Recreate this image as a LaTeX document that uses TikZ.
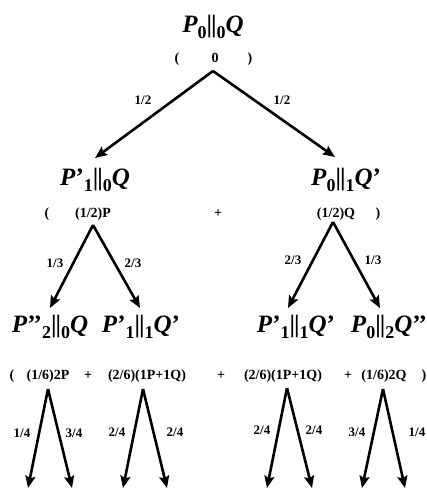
\documentclass[tikz,border=0pt]{standalone}
\usepackage{fontspec}
\setmainfont{Liberation Serif}
\usetikzlibrary{arrows.meta}
\newcommand{\sbs}[1]{\raisebox{-0.24em}{\fontsize{18}{18}\selectfont #1}}
\newcommand{\pbar}{\textbar\kern-1pt\textbar}
\newcommand{\ttlx}[4]{\textit{P}#1\sbs{#2}\pbar\sbs{#3}\textit{Q}#4}
\tikzset{
  ttl/.style={font=\fontsize{25}{25}\selectfont\bfseries, inner sep=0pt, anchor=base},
  sm/.style={font=\fontsize{14}{14}\selectfont\bfseries, inner sep=0pt, anchor=base},
  lab/.style={font=\fontsize{13}{13}\selectfont\bfseries, inner sep=0pt},
  arr/.style={line width=2.6pt, -{Stealth[length=12pt,width=10pt,inset=2pt]}}
}
\begin{document}
\begin{tikzpicture}[x=1pt,y=-1pt]
\useasboundingbox (0,0) rectangle (427,488);
% titles
\node[ttl] (t0) at (213,32) {\ttlx{}{0}{0}{}};
\node[ttl] (t1) at (95,185) {\ttlx{’}{1}{0}{}};
\node[ttl] (t2) at (346,185) {\ttlx{}{0}{1}{’}};
\node[ttl] (t3) at (50,332) {\ttlx{’\kern-2pt’}{2}{0}{}};
\node[ttl] (t4) at (141,332) {\ttlx{’}{1}{1}{’}};
\node[ttl] (t5) at (296,332) {\ttlx{’}{1}{1}{’}};
\node[ttl] (t6) at (389,332) {\ttlx{}{0}{2}{’\kern-2pt’}};
% level 1 text
\node[sm] (e0a) at (177,62) {(};
\node[sm] (e0b) at (215,62) {0};
\node[sm] (e0c) at (250,62) {)};
% level 2 text
\node[sm] (e1a) at (47,217) {(};
\node[sm] (e1b) at (93,217) {(1/2)P};
\node[sm] (e1c) at (218,217) {+};
\node[sm] (e2b) at (336,217) {(1/2)Q};
\node[sm] (e2c) at (378,217) {)};
% level 3 text
\node[sm] (e3a) at (12,379) {(};
\node[sm] (e3b) at (48,379) {(1/6)2P};
\node[sm] (e3c) at (88,379) {+};
\node[sm] (e4b) at (147,379) {(2/6)(1P+1Q)};
\node[sm] (e4c) at (221,379) {+};
\node[sm] (e5b) at (283,379) {(2/6)(1P+1Q)};
\node[sm] (e5c) at (348,379) {+};
\node[sm] (e6b) at (384,379) {(1/6)2Q};
\node[sm] (e6c) at (424,379) {)};
% apexes and tips
\coordinate (a0) at (213,71);
\coordinate (a1) at (93,225);
\coordinate (a2) at (333,222);
\coordinate (a3) at (48,389);
\coordinate (a4) at (143,389);
\coordinate (a5) at (287,388);
\coordinate (a6) at (383,389);
\coordinate (b1) at (95,158);
\coordinate (b2) at (335,157);
\coordinate (c1) at (50,308);
\coordinate (c2) at (140,308);
\coordinate (c3) at (288,308);
\coordinate (c4) at (380,308);
\coordinate (d1) at (28,488);
\coordinate (d2) at (72,488);
\coordinate (d3) at (123,488);
\coordinate (d4) at (167,488);
\coordinate (d5) at (267,488);
\coordinate (d6) at (312,488);
\coordinate (d7) at (362,488);
\coordinate (d8) at (405,488);
% arrows
\draw[arr] (a0) -- (b1);
\draw[arr] (a0) -- (b2);
\draw[arr] (a1) -- (c1);
\draw[arr] (a1) -- (c2);
\draw[arr] (a2) -- (c3);
\draw[arr] (a2) -- (c4);
\draw[arr] (a3) -- (d1);
\draw[arr] (a3) -- (d2);
\draw[arr] (a4) -- (d3);
\draw[arr] (a4) -- (d4);
\draw[arr] (a5) -- (d5);
\draw[arr] (a5) -- (d6);
\draw[arr] (a6) -- (d7);
\draw[arr] (a6) -- (d8);
% labels
\node[lab] (l1) at (143,100) {1/2};
\node[lab] (l2) at (282,100) {1/2};
\node[lab] (l3) at (55,263) {1/3};
\node[lab] (l4) at (133,263) {2/3};
\node[lab] (l5) at (293,260) {2/3};
\node[lab] (l6) at (373,260) {1/3};
\node[lab] (l7) at (22,433) {1/4};
\node[lab] (l8) at (74,433) {3/4};
\node[lab] (l9) at (117,432) {2/4};
\node[lab] (l10) at (175,432) {2/4};
\node[lab] (l11) at (262,430) {2/4};
\node[lab] (l12) at (314,430) {2/4};
\node[lab] (l13) at (357,432) {3/4};
\node[lab] (l14) at (417,432) {1/4};
\end{tikzpicture}
\end{document}
